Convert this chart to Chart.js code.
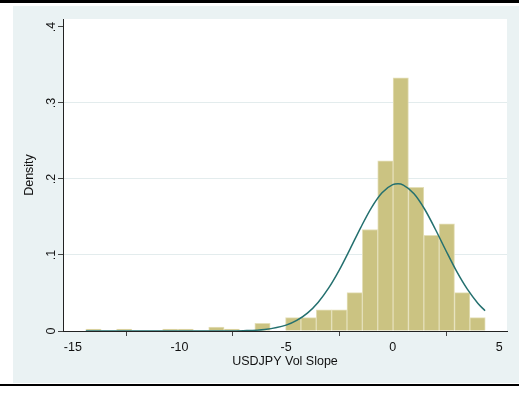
<!DOCTYPE html>
<html>
<head>
<meta charset="utf-8">
<title>USDJPY Vol Slope – histogram</title>
<script src="https://cdn.jsdelivr.net/npm/chart.js@4/dist/chart.umd.min.js"></script>
<style>
  html, body { margin: 0; padding: 0; background: #ffffff; }
  #wrap { width: 519px; height: 396px; }
</style>
</head>
<body>
<div id="wrap"><canvas id="c" width="519" height="396"></canvas></div>
<script>
// Histogram bin centres (width of each bin below)
const binCenters = [
  -14.030, -13.309, -12.589, -11.869, -11.148, -10.428, -9.707, -8.987,
  -8.267, -7.546, -6.826, -6.105, -5.385, -4.665, -3.944, -3.224,
  -2.503, -1.783, -1.063, -0.342, 0.378, 1.099, 1.819, 2.539,
  3.260, 3.980
];
const binWidth = 0.7204;

// Density of each bin
const binDensity = [
  0.0025, 0, 0.0025, 0, 0, 0.0025, 0.0025, 0,
  0.0050, 0.0025, 0, 0.0101, 0, 0.0176, 0.0176, 0.0277,
  0.0277, 0.0504, 0.1335, 0.2240, 0.3330, 0.1889, 0.1260, 0.1411,
  0.0504, 0.0176
];

// Normal density overlay, sampled along the data range
const curveX = [
  -14.39, -12, -10, -8, -7, -6, -5, -4.5, -4, -3.5, -3, -2.5, -2,
  -1.5, -1, -0.5, 0, 0.25, 0.5, 1, 1.5, 2, 2.5, 3, 3.5, 4, 4.33
];
const curveY = [
  0, 0, 0, 0.0001, 0.0004, 0.0020, 0.0077, 0.0139, 0.0235, 0.0376, 0.0567, 0.0805, 0.1078,
  0.1361, 0.1621, 0.1819, 0.1925, 0.1937, 0.1920, 0.1806, 0.1602, 0.1339, 0.1056, 0.0784, 0.0550, 0.0363, 0.0267
];

// Axis ticks
const xTicks = [-15, -10, -5, 0, 5];
const yTicks = [0, 0.1, 0.2, 0.3, 0.4];
const yTickLabels = ['0', '.1', '.2', '.3', '.4'];

const FONT = "'Liberation Sans', Arial, 'DejaVu Sans', sans-serif";

// Stata-style frame: pale graph region, white plot region, black rules
const framePlugin = {
  id: 'frame',
  beforeDraw(chart) {
    const { ctx, chartArea: a, width, height } = chart;
    ctx.save();
    ctx.fillStyle = '#ffffff';
    ctx.fillRect(0, 0, width, height);
    ctx.fillStyle = '#eaf2f3';
    ctx.fillRect(13, 6, width - 13, 377);
    ctx.fillStyle = '#ffffff';
    ctx.fillRect(a.left, a.top, a.right - a.left, a.bottom - a.top);
    ctx.fillStyle = '#000000';
    ctx.fillRect(0, 0, width, 3);
    ctx.fillRect(0, 384, width, 2);
    ctx.restore();
  }
};

new Chart(document.getElementById('c'), {
  type: 'bar',
  data: {
    datasets: [
      {
        type: 'line',
        label: 'Normal density',
        data: curveX.map((x, i) => ({ x, y: curveY[i] })),
        borderColor: '#24706f',
        borderWidth: 1.5,
        pointRadius: 0,
        fill: false,
        cubicInterpolationMode: 'monotone',
        order: 0
      },
      {
        type: 'bar',
        label: 'Density',
        data: binCenters.map((x, i) => ({ x, y: binDensity[i] })),
        backgroundColor: '#cbc382',
        borderColor: '#e4dfb8',
        borderWidth: 1,
        barPercentage: 1,
        categoryPercentage: 1,
        order: 1
      }
    ]
  },
  options: {
    responsive: false,
    animation: false,
    events: [],
    layout: { padding: { left: 0, right: 12, top: 19, bottom: 0 } },
    plugins: {
      legend: { display: false },
      tooltip: { enabled: false }
    },
    scales: {
      x: {
        type: 'linear',
        min: -15.46,
        max: 5.36,
        offset: false,
        afterBuildTicks(scale) { scale.ticks = xTicks.map(v => ({ value: v })); },
        afterFit(scale) { scale.height = 65; },
        ticks: {
          autoSkip: false,
          maxRotation: 0,
          padding: 4,
          color: '#111111',
          font: { family: FONT, size: 12.5 },
          callback: v => String(v)
        },
        grid: {
          drawOnChartArea: false,
          drawTicks: true,
          tickLength: 5,
          tickColor: '#444444',
          tickWidth: 1
        },
        border: { display: true, color: '#222222', width: 1 },
        title: {
          display: true,
          text: 'USDJPY Vol Slope',
          color: '#111111',
          font: { family: FONT, size: 12.5 },
          padding: { top: 0, bottom: 27 }
        }
      },
      y: {
        type: 'linear',
        min: 0,
        max: 0.4105,
        afterBuildTicks(scale) { scale.ticks = yTicks.map(v => ({ value: v })); },
        afterFit(scale) { scale.width = 63; },
        ticks: {
          autoSkip: false,
          minRotation: 90,
          maxRotation: 90,
          crossAlign: 'center',
          padding: 1,
          color: '#111111',
          font: { family: FONT, size: 12.5 },
          callback: (v) => {
            const i = yTicks.findIndex(t => Math.abs(t - v) < 1e-9);
            return i >= 0 ? yTickLabels[i] : '';
          }
        },
        grid: {
          drawOnChartArea: true,
          color: (ctx) => {
            const v = ctx.tick ? ctx.tick.value : null;
            return (v === 0 || v === 0.4) ? 'rgba(0,0,0,0)' : '#e3eced';
          },
          lineWidth: 1,
          drawTicks: true,
          tickLength: 5,
          tickColor: '#444444',
          tickWidth: 1
        },
        border: { display: true, color: '#222222', width: 1 },
        title: {
          display: true,
          text: 'Density',
          color: '#111111',
          font: { family: FONT, size: 12.5 },
          padding: { top: 22, bottom: 0 }
        }
      }
    }
  },
  plugins: [framePlugin]
});
</script>
</body>
</html>
